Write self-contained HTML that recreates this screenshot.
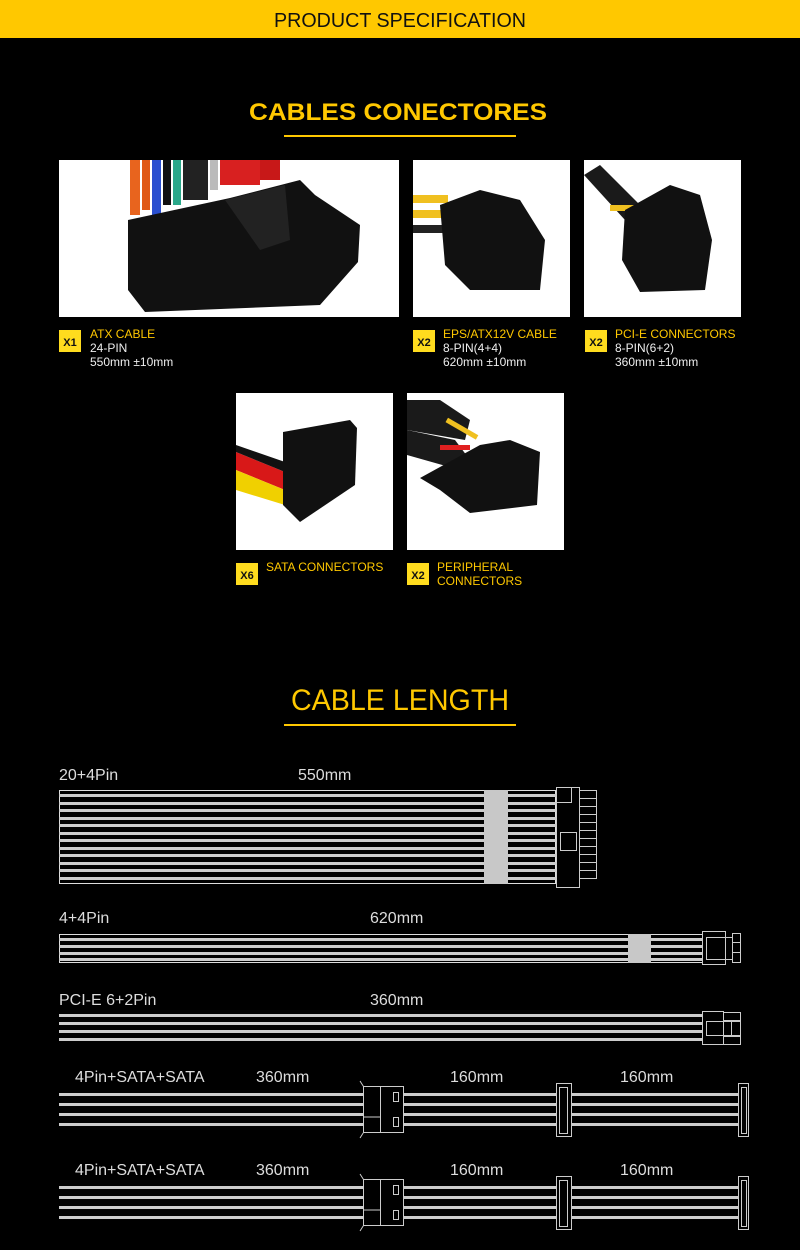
<!DOCTYPE html>
<html><head><meta charset="utf-8"><style>
html,body{margin:0;padding:0;background:#000;width:800px;height:1250px;overflow:hidden}
svg{display:block}
text{font-family:"Liberation Sans",sans-serif}
</style></head><body>
<svg width="800" height="1250" viewBox="0 0 800 1250" xmlns="http://www.w3.org/2000/svg">
<rect x="0" y="0" width="800" height="1250" fill="#000"/>
<rect x="0" y="0" width="800" height="38" fill="#ffc800"/>
<text x="400" y="27" text-anchor="middle" font-size="20" fill="#111" textLength="252" lengthAdjust="spacingAndGlyphs">PRODUCT  SPECIFICATION</text>

<text x="398" y="120" text-anchor="middle" font-size="24" font-weight="bold" fill="#ffc800" textLength="298" lengthAdjust="spacingAndGlyphs">CABLES CONECTORES</text>
<rect x="284" y="135" width="232" height="2" fill="#ffc800"/>

<!-- photos -->
<rect x="59" y="160" width="340" height="157" fill="#fff"/>
<g>
<rect x="130" y="160" width="10" height="55" fill="#e8641e"/><rect x="142" y="160" width="8" height="50" fill="#e05a18"/>
<rect x="152" y="160" width="9" height="55" fill="#2a4fd0"/><rect x="163" y="160" width="8" height="45" fill="#111"/>
<rect x="173" y="160" width="8" height="45" fill="#2aa88a"/><rect x="183" y="160" width="25" height="40" fill="#222"/>
<rect x="210" y="160" width="8" height="30" fill="#bbb"/><rect x="220" y="160" width="40" height="25" fill="#d82020"/>
<rect x="260" y="160" width="20" height="20" fill="#c81818"/>
<polygon points="128,220 230,198 300,180 315,195 360,225 358,262 320,305 145,312 128,290" fill="#111"/>
<polygon points="225,200 285,185 290,240 260,250" fill="#222"/>
</g>
<rect x="413" y="160" width="157" height="157" fill="#fff"/>
<g>
<rect x="413" y="195" width="35" height="8" fill="#f0c020"/><rect x="413" y="210" width="35" height="8" fill="#f0c020"/><rect x="413" y="225" width="35" height="8" fill="#222"/>
<polygon points="440,205 480,190 520,200 545,240 540,290 470,290 445,265" fill="#111"/>
</g>
<rect x="584" y="160" width="157" height="157" fill="#fff"/>
<g>
<polygon points="584,175 600,165 640,205 625,220" fill="#1a1a1a"/>
<rect x="610" y="205" width="30" height="6" fill="#f0c020"/>
<polygon points="625,210 670,185 700,195 712,240 705,290 640,292 622,260" fill="#111"/>
</g>
<rect x="236" y="393" width="157" height="157" fill="#fff"/>
<g>
<polygon points="236,452 285,472 285,490 236,470" fill="#d81818"/>
<polygon points="236,470 285,490 285,505 236,490" fill="#f0d000"/>
<polygon points="236,445 285,462 285,472 236,452" fill="#111"/>
<polygon points="283,432 350,420 357,428 355,485 300,522 283,505" fill="#111"/>
</g>
<rect x="407" y="393" width="157" height="157" fill="#fff"/>
<g>
<polygon points="407,400 440,400 470,420 465,440 407,430" fill="#1a1a1a"/>
<polygon points="407,430 455,440 470,460 460,470 407,455" fill="#1a1a1a"/>
<rect x="440" y="445" width="30" height="5" fill="#e02020"/>
<rect x="445" y="425" width="35" height="5" fill="#f0c020" transform="rotate(30 460 427)"/>
<polygon points="420,478 480,445 510,440 540,452 537,505 470,513 440,490" fill="#111"/>
</g>

<!-- labels -->
<g font-size="12" fill="#ffc800">
<rect x="59" y="330" width="22" height="22" fill="#ffdc1e"/><text x="70" y="346" text-anchor="middle" font-size="11" font-weight="bold" fill="#111">X1</text>
<text x="90" y="338">ATX  CABLE</text><text x="90" y="352" fill="#eee">24-PIN</text><text x="90" y="366" fill="#eee">550mm ±10mm</text>
<rect x="413" y="330" width="22" height="22" fill="#ffdc1e"/><text x="424" y="346" text-anchor="middle" font-size="11" font-weight="bold" fill="#111">X2</text>
<text x="443" y="338">EPS/ATX12V  CABLE</text><text x="443" y="352" fill="#eee">8-PIN(4+4)</text><text x="443" y="366" fill="#eee">620mm ±10mm</text>
<rect x="585" y="330" width="22" height="22" fill="#ffdc1e"/><text x="596" y="346" text-anchor="middle" font-size="11" font-weight="bold" fill="#111">X2</text>
<text x="615" y="338">PCI-E CONNECTORS</text><text x="615" y="352" fill="#eee">8-PIN(6+2)</text><text x="615" y="366" fill="#eee">360mm ±10mm</text>
<rect x="236" y="563" width="22" height="22" fill="#ffdc1e"/><text x="247" y="579" text-anchor="middle" font-size="11" font-weight="bold" fill="#111">X6</text>
<text x="266" y="571">SATA CONNECTORS</text>
<rect x="407" y="563" width="22" height="22" fill="#ffdc1e"/><text x="418" y="579" text-anchor="middle" font-size="11" font-weight="bold" fill="#111">X2</text>
<text x="437" y="571">PERIPHERAL</text><text x="437" y="585">CONNECTORS</text>
</g>

<text x="400" y="710" text-anchor="middle" font-size="30" fill="#ffc800" textLength="218" lengthAdjust="spacingAndGlyphs">CABLE LENGTH</text>
<rect x="284" y="724" width="232" height="2" fill="#ffc800"/>

<g font-size="16" fill="#ddd">
<text x="59" y="780">20+4Pin</text><text x="298" y="780">550mm</text>
<text x="59" y="923">4+4Pin</text><text x="370" y="923">620mm</text>
<text x="59" y="1005">PCI-E 6+2Pin</text><text x="370" y="1005">360mm</text>
<text x="75" y="1082">4Pin+SATA+SATA</text><text x="256" y="1082">360mm</text><text x="450" y="1082">160mm</text><text x="620" y="1082">160mm</text>
<text x="75" y="1175">4Pin+SATA+SATA</text><text x="256" y="1175">360mm</text><text x="450" y="1175">160mm</text><text x="620" y="1175">160mm</text>
</g>

<!-- cable 1 -->
<g stroke="#ddd" fill="none">
<rect x="59.5" y="790.5" width="496" height="93" stroke-width="1"/>
</g>
<g fill="#ccc">
<rect x="59" y="794" width="497" height="3"/><rect x="59" y="802" width="497" height="3"/><rect x="59" y="809" width="497" height="3"/>
<rect x="59" y="817" width="497" height="3"/><rect x="59" y="824" width="497" height="3"/><rect x="59" y="832" width="497" height="3"/>
<rect x="59" y="839" width="497" height="3"/><rect x="59" y="847" width="497" height="3"/><rect x="59" y="854" width="497" height="3"/>
<rect x="59" y="862" width="497" height="3"/><rect x="59" y="869" width="497" height="3"/><rect x="59" y="877" width="497" height="3"/>
<rect x="484" y="790" width="24" height="94" fill="#c8c8c8"/>
</g>
<g stroke="#ccc" fill="none" stroke-width="1">
<rect x="556.5" y="787.5" width="23" height="100"/>
<rect x="556.5" y="787.5" width="15" height="15"/>
<rect x="560.5" y="832.5" width="16" height="18"/>
<rect x="579.5" y="790.5" width="17" height="8"/><rect x="579.5" y="798.5" width="17" height="8"/><rect x="579.5" y="806.5" width="17" height="8"/>
<rect x="579.5" y="814.5" width="17" height="8"/><rect x="579.5" y="822.5" width="17" height="8"/><rect x="579.5" y="830.5" width="17" height="8"/>
<rect x="579.5" y="838.5" width="17" height="8"/><rect x="579.5" y="846.5" width="17" height="8"/><rect x="579.5" y="854.5" width="17" height="8"/>
<rect x="579.5" y="862.5" width="17" height="8"/><rect x="579.5" y="870.5" width="17" height="8"/>
</g>

<!-- cable 2 -->
<rect x="59.5" y="934.5" width="643" height="28" stroke="#ddd" fill="none"/>
<g fill="#ccc">
<rect x="59" y="938" width="643" height="3"/><rect x="59" y="945" width="643" height="3"/><rect x="59" y="952" width="643" height="3"/><rect x="59" y="958" width="643" height="3"/>
<rect x="628" y="934" width="23" height="29" fill="#c8c8c8"/>
</g>
<g stroke="#ccc" fill="none">
<rect x="702.5" y="931.5" width="23" height="33"/><rect x="706.5" y="937.5" width="26" height="22"/>
<rect x="732.5" y="933.5" width="8" height="9"/><rect x="732.5" y="942.5" width="8" height="10"/><rect x="732.5" y="952.5" width="8" height="10"/>
</g>

<!-- cable 3 -->
<g fill="#ccc">
<rect x="59" y="1014" width="643" height="3"/><rect x="59" y="1022" width="643" height="3"/><rect x="59" y="1030" width="643" height="3"/><rect x="59" y="1038" width="643" height="3"/>
</g>
<g stroke="#ccc" fill="none">
<rect x="702.5" y="1011.5" width="21" height="33"/><rect x="706.5" y="1021.5" width="25" height="14"/>
<rect x="723.5" y="1012.5" width="17" height="8"/><rect x="723.5" y="1036.5" width="17" height="8"/><rect x="731.5" y="1021.5" width="9" height="14"/>
</g>

<!-- cable 4 & 5 -->
<g id="sc">
<g fill="#ccc">
<rect x="59" y="1093" width="683" height="3"/><rect x="59" y="1103" width="683" height="3"/><rect x="59" y="1113" width="683" height="3"/><rect x="59" y="1123" width="683" height="3"/>
</g>
<rect x="363.5" y="1086.5" width="40" height="46" fill="#000" stroke="#ccc"/>
<line x1="363.5" y1="1117" x2="380.5" y2="1117" stroke="#ccc"/>
<line x1="380.5" y1="1086.5" x2="380.5" y2="1132.5" stroke="#ccc"/>
<rect x="393.5" y="1092.5" width="5" height="9" fill="none" stroke="#ccc"/>
<rect x="393.5" y="1117.5" width="5" height="9" fill="none" stroke="#ccc"/>
<path d="M363.5 1086.5 L360 1081 M363.5 1132.5 L360 1138" stroke="#ccc"/>
<rect x="556.5" y="1083.5" width="15" height="53" fill="#000" stroke="#ccc"/>
<path d="M559.5 1087.5 L567.5 1087.5 L567.5 1133.5 L559.5 1133.5 Z" fill="none" stroke="#ccc"/>
<rect x="738.5" y="1083.5" width="10" height="53" fill="#000" stroke="#ccc"/>
<path d="M741.5 1087.5 L746.5 1087.5 L746.5 1133.5 L741.5 1133.5 Z" fill="none" stroke="#ccc"/>
</g>
<use href="#sc" transform="translate(0,93)"/>
</svg>
</body></html>
